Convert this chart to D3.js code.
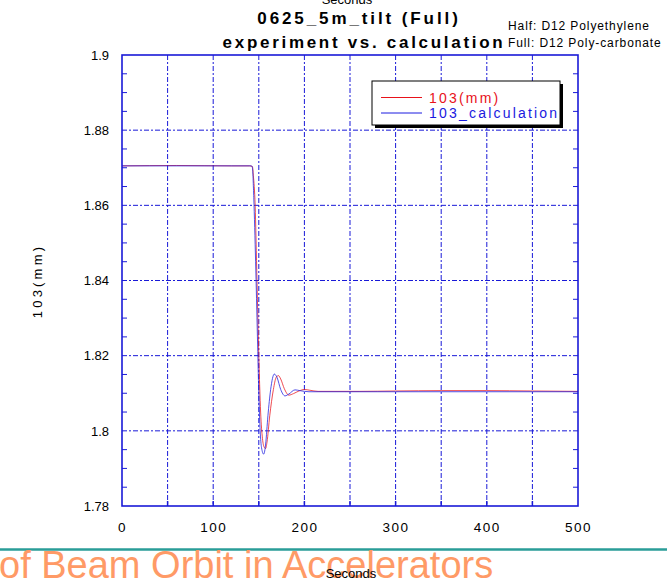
<!DOCTYPE html>
<html>
<head>
<meta charset="utf-8">
<script src="https://cdn.jsdelivr.net/npm/d3@7"></script>
<style>
  body { margin: 0; background: #fff; }
  svg { display: block; font-family: "Liberation Sans", Arial, sans-serif; }
</style>
</head>
<body>
<svg id="chart" width="667" height="582"></svg>
<script>
// measured trace (red) and calculated trace (blue), time in seconds
const measTime = [0, 60, 120, 140, 143, 144, 146, 148, 150, 152, 154, 156, 157.5, 159, 162, 166, 169, 171.5, 174, 178, 183, 188, 194, 200, 206, 215, 260, 300, 350, 400, 450, 500];
const measVal  = [1.8705, 1.8706, 1.8705, 1.8705, 1.8703, 1.868, 1.86, 1.84, 1.82, 1.805, 1.798, 1.7956, 1.7953, 1.797, 1.804, 1.811, 1.8142, 1.8147, 1.8138, 1.8112, 1.8095, 1.8099, 1.8106, 1.8110, 1.8108, 1.8105, 1.8105, 1.8106, 1.8107, 1.8107, 1.8106, 1.8105];
const calcTime = [0, 142, 143, 144.5, 146.5, 148.5, 150, 151.5, 153, 155.4, 157.5, 160, 163, 167, 170, 174, 178.7, 183, 189.7, 195, 205, 300, 400, 500];
const calcVal  = [1.8705, 1.8705, 1.870, 1.862, 1.845, 1.825, 1.81, 1.800, 1.7955, 1.7938, 1.7965, 1.804, 1.811, 1.8151, 1.8142, 1.811, 1.8093, 1.8098, 1.8109, 1.8107, 1.8104, 1.8104, 1.8104, 1.8104];

const xTicks = [0, 100, 200, 300, 400, 500];
const yTicks = [1.78, 1.8, 1.82, 1.84, 1.86, 1.88, 1.9];
const legendNames = ["103(mm)", "103_calculation"];
const colors = ["#e8121a", "#1a1ae0"];

const svg = d3.select('#chart');
const plotL = 122, plotR = 578, plotT = 55, plotB = 506;

const x = d3.scaleLinear().domain([0, 500]).range([plotL, plotR]);
const y = d3.scaleLinear().domain([1.78, 1.9]).range([plotB, plotT]);

const gridColor = "#1a1ad8";

// grid lines
svg.append('g')
    .selectAll('line')
    .data(d3.range(50, 500, 50))
    .join('line')
    .attr('x1', d => x(d)).attr('x2', d => x(d))
    .attr('y1', plotT).attr('y2', plotB)
    .attr('stroke', gridColor).attr('stroke-width', 1)
    .attr('stroke-dasharray', '5,2,2,2');

svg.append('g')
    .selectAll('line')
    .data(yTicks.slice(1, -1))
    .join('line')
    .attr('x1', plotL).attr('x2', plotR)
    .attr('y1', d => y(d)).attr('y2', d => y(d))
    .attr('stroke', gridColor).attr('stroke-width', 1)
    .attr('stroke-dasharray', '5,2,2,2');

// minor ticks on left and right
const minor = d3.range(1.785, 1.9, 0.005).filter(v => Math.abs((v - 1.78) / 0.02 - Math.round((v - 1.78) / 0.02)) > 0.01);
svg.append('g').selectAll('line').data(minor).join('line')
    .attr('x1', plotL).attr('x2', plotL + 5)
    .attr('y1', d => y(d)).attr('y2', d => y(d))
    .attr('stroke', gridColor);
svg.append('g').selectAll('line').data(minor).join('line')
    .attr('x1', plotR - 5).attr('x2', plotR)
    .attr('y1', d => y(d)).attr('y2', d => y(d))
    .attr('stroke', gridColor);

// bottom ticks every 50
svg.append('g').selectAll('line').data(d3.range(50, 500, 50)).join('line')
    .attr('x1', d => x(d)).attr('x2', d => x(d))
    .attr('y1', plotB).attr('y2', plotB - 5)
    .attr('stroke', gridColor).attr('stroke-width', 1.5);

// lines
const line = d3.line().curve(d3.curveMonotoneX).x(d => x(d[0])).y(d => y(d[1]));
const series = [
    d3.zip(measTime, measVal),
    d3.zip(calcTime, calcVal)
];
svg.append('g').selectAll('path').data(series).join('path')
    .attr('d', line)
    .attr('fill', 'none')
    .attr('stroke', (d, i) => colors[i])
    .attr('stroke-opacity', 0.75)
    .attr('stroke-width', 1);

// frame
svg.append('rect')
    .attr('x', plotL).attr('y', plotT)
    .attr('width', plotR - plotL).attr('height', plotB - plotT)
    .attr('fill', 'none').attr('stroke', gridColor).attr('stroke-width', 1.6);

// axes labels
const xAxis = d3.axisBottom(x).tickValues(xTicks).tickSize(0).tickPadding(16).tickFormat(d3.format('d'));
const gx = svg.append('g').attr('transform', `translate(0,${plotB})`).call(xAxis);
gx.select('.domain').remove();
gx.selectAll('text').attr('font-size', 13.5).attr('fill', '#000')
    .attr('letter-spacing', 1.5).attr('font-family', '"Liberation Sans", Arial, sans-serif');

const yAxis = d3.axisLeft(y).tickValues(yTicks).tickSize(0).tickPadding(13).tickFormat(d => String(+d.toFixed(2)));
const gy = svg.append('g').attr('transform', `translate(${plotL},0)`).call(yAxis);
gy.select('.domain').remove();
gy.selectAll('text').attr('font-size', 13).attr('fill', '#000')
    .attr('font-family', '"Liberation Sans", Arial, sans-serif');

svg.append('text')
    .attr('transform', 'translate(42,281) rotate(-90)')
    .attr('text-anchor', 'middle')
    .attr('font-size', 13).attr('letter-spacing', 3.2)
    .text('103(mm)');

// titles
svg.append('text').attr('x', 347).attr('y', 4).attr('text-anchor', 'middle')
    .attr('font-size', 13).text('Seconds');
svg.append('text').attr('x', 359).attr('y', 24).attr('text-anchor', 'middle')
    .attr('font-size', 17).attr('font-weight', 'bold').attr('letter-spacing', 2.9)
    .text('0625_5m_tilt (Full)');
svg.append('text').attr('x', 364).attr('y', 48).attr('text-anchor', 'middle')
    .attr('font-size', 17).attr('font-weight', 'bold').attr('letter-spacing', 2.7)
    .text('experiment vs. calculation');
svg.append('text').attr('x', 508).attr('y', 30)
    .attr('font-size', 12).attr('letter-spacing', 0.9).text('Half: D12 Polyethylene');
svg.append('text').attr('x', 508).attr('y', 47)
    .attr('font-size', 12).attr('letter-spacing', 0.9).text('Full: D12 Poly-carbonate');

// legend
const lg = svg.append('g');
lg.append('rect').attr('x', 375).attr('y', 84).attr('width', 188).attr('height', 44).attr('fill', '#000');
lg.append('rect').attr('x', 372).attr('y', 81).attr('width', 188).attr('height', 44)
    .attr('fill', '#fff').attr('stroke', '#000').attr('stroke-width', 1);
legendNames.forEach((name, i) => {
    const ly = 97.5 + i * 15.5;
    lg.append('line').attr('x1', 381).attr('x2', 422).attr('y1', ly).attr('y2', ly)
        .attr('stroke', colors[i]).attr('stroke-width', 1);
    lg.append('text').attr('x', 429).attr('y', ly + 5)
        .attr('font-size', 14).attr('letter-spacing', 2.2).attr('fill', colors[i])
        .text(name);
});

// slide footer underneath
svg.append('line').attr('x1', 0).attr('x2', 667).attr('y1', 549.5).attr('y2', 549.5)
    .attr('stroke', '#2a9d98').attr('stroke-width', 2.5);
svg.append('text').attr('x', -1).attr('y', 578)
    .attr('font-size', 38).attr('fill', '#ff9a66')
    .text('of Beam Orbit in Accelerators');
svg.append('text').attr('x', 351).attr('y', 578).attr('text-anchor', 'middle')
    .attr('font-size', 13).text('Seconds');
</script>
</body>
</html>
